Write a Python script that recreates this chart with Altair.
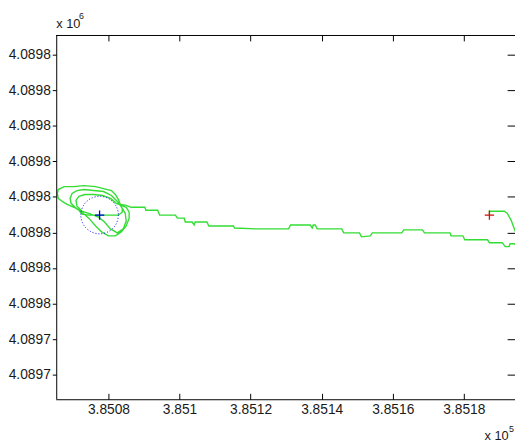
import json
import altair as alt
import pandas as pd

# ---------------- data (UTM metres) ----------------
x_tick_values = [385080, 385100, 385120, 385140, 385160, 385180]
x_tick_labels = ["3.8508", "3.851", "3.8512", "3.8514", "3.8516", "3.8518"]
y_tick_values = [4089740, 4089750, 4089760, 4089770, 4089780,
                 4089790, 4089800, 4089810, 4089820, 4089830]
y_tick_labels = ["4.0897", "4.0897", "4.0898", "4.0898", "4.0898",
                 "4.0898", "4.0898", "4.0898", "4.0898", "4.0898"]

# track: from the start point (red +) eastwards, back west to the target
approach_east = [385187.20, 385187.20, 385191.35, 385192.19, 385193.29, 385194.12, 385194.96,
                 385195.79, 385196.34, 385194.96, 385194.12, 385193.02, 385192.74, 385191.63,
                 385190.80, 385187.20, 385186.65, 385180.27, 385179.72, 385176.40, 385176.12,
                 385168.92, 385168.36, 385163.10, 385162.55, 385154.24, 385153.68, 385151.19,
                 385150.64, 385146.20, 385145.65, 385138.73, 385138.17, 385137.62, 385137.34,
                 385136.79, 385131.25, 385130.69, 385121.55, 385115.46, 385115.18, 385108.25,
                 385107.70, 385104.38, 385104.10, 385103.55, 385101.61, 385101.33, 385099.39,
                 385098.84, 385094.40, 385093.85, 385090.53, 385090.25, 385086.37, 385084.99,
                 385083.32]
approach_north = [4089784.87, 4089785.98, 4089785.98, 4089785.43, 4089783.49, 4089781.27, 4089779.06,
                  4089777.67, 4089776.56, 4089776.29, 4089776.84, 4089776.84, 4089776.01, 4089776.01,
                  4089777.12, 4089777.12, 4089777.95, 4089777.95, 4089779.06, 4089779.06, 4089779.89,
                  4089779.89, 4089780.72, 4089780.72, 4089779.89, 4089779.89, 4089779.06, 4089778.78,
                  4089779.89, 4089779.89, 4089781.00, 4089781.00, 4089782.10, 4089782.10, 4089781.27,
                  4089782.10, 4089782.10, 4089781.00, 4089781.00, 4089781.27, 4089781.83, 4089781.83,
                  4089782.94, 4089782.94, 4089782.10, 4089782.94, 4089782.94, 4089784.04, 4089784.04,
                  4089784.87, 4089784.87, 4089786.26, 4089786.26, 4089787.09, 4089787.09, 4089787.64,
                  4089787.92]
loop_a_east = [385082.77, 385081.94, 385080.83, 385078.61, 385076.40, 385073.07, 385070.30,
               385067.53, 385065.87, 385065.60, 385065.87, 385066.98, 385068.37, 385070.30,
               385071.69, 385072.52, 385074.46, 385078.61, 385082.77, 385083.88, 385083.88,
               385083.32]
loop_a_north = [4089789.31, 4089790.69, 4089791.80, 4089792.35, 4089792.91, 4089793.19, 4089792.91,
                4089792.91, 4089792.08, 4089790.97, 4089789.58, 4089788.75, 4089787.92, 4089787.09,
                4089786.26, 4089785.15, 4089784.87, 4089784.87, 4089784.87, 4089785.71, 4089786.81,
                4089787.64]
loop_b_east = [385082.22, 385080.83, 385078.61, 385075.84, 385073.07, 385071.14, 385069.75,
               385069.20, 385069.47, 385070.58, 385072.24, 385074.46, 385076.40, 385078.06,
               385080.00, 385081.94, 385083.60, 385084.99, 385085.82, 385085.82, 385084.99,
               385083.60]
loop_b_north = [4089789.03, 4089790.41, 4089791.52, 4089791.80, 4089792.08, 4089791.80, 4089790.97,
                4089789.58, 4089788.20, 4089787.09, 4089785.98, 4089784.04, 4089781.83, 4089780.17,
                4089779.06, 4089779.06, 4089780.17, 4089781.83, 4089784.04, 4089785.71, 4089787.09,
                4089787.64]
loop_c_east = [385082.22, 385080.55, 385078.34, 385075.84, 385073.35, 385071.69, 385070.86,
               385071.14, 385072.52, 385075.01, 385077.23, 385078.89, 385080.55, 385082.49,
               385084.16, 385084.99, 385084.71, 385083.88]
loop_c_north = [4089788.20, 4089789.58, 4089790.41, 4089790.69, 4089790.69, 4089790.14, 4089789.03,
                4089787.37, 4089785.98, 4089785.15, 4089784.32, 4089782.94, 4089781.00, 4089779.89,
                4089781.00, 4089783.21, 4089785.43, 4089786.81]

target_east = [385077.5]
target_north = [4089784.9]
start_east = [385187.2]
start_north = [4089784.9]

x_domain = [385065.3, 385194.4]
y_domain = [4089733.07, 4089835.57]

# ---------------- tables ----------------
east = approach_east + loop_a_east + loop_b_east + loop_c_east
north = approach_north + loop_a_north + loop_b_north + loop_c_north
track = pd.DataFrame({"E": east, "N": north, "i": list(range(len(east)))})
target = pd.DataFrame({"E": target_east, "N": target_north})
start = pd.DataFrame({"E": start_east, "N": start_north})
one = pd.DataFrame({"t": ["x 10"]})

W, H = 466, 370
FONT = "Liberation Sans"
TXT = "#1a1a1a"

xs = alt.Scale(domain=x_domain, nice=False, zero=False)
ys = alt.Scale(domain=y_domain, nice=False, zero=False)

x_expr = f"{json.dumps(x_tick_labels)}[indexof({json.dumps(x_tick_values)}, datum.value)]"
y_expr = f"{json.dumps(y_tick_labels)}[indexof({json.dumps(y_tick_values)}, datum.value)]"

bottom_axis = alt.Axis(orient="bottom", values=x_tick_values, labelExpr=x_expr, offset=-6,
                       tickSize=6, domain=False, grid=False, tickColor="black", title=None,
                       labelFont=FONT, labelFontSize=14, labelColor=TXT, labelPadding=3,
                       labelOverlap=False, labelFlush=False)
left_axis = alt.Axis(orient="left", values=y_tick_values, labelExpr=y_expr, tickSize=4,
                     domain=False, grid=False, tickColor="black", title=None,
                     labelFont=FONT, labelFontSize=14, labelColor=TXT, labelPadding=2,
                     labelOverlap=False)
top_axis = alt.Axis(orient="top", values=x_tick_values, labels=False, offset=-6, tickSize=6,
                    domain=False, grid=False, tickColor="black", title=None)
right_axis = alt.Axis(orient="right", values=y_tick_values, labels=False, offset=-8, tickSize=8,
                      domain=False, grid=False, tickColor="black", title=None)

line = alt.Chart(track).mark_line(clip=True, color="#33dd33", strokeWidth=1.4).encode(
    x=alt.X("E:Q", scale=xs, axis=bottom_axis),
    y=alt.Y("N:Q", scale=ys, axis=left_axis),
    order="i:Q",
)

circle = alt.Chart(target).mark_point(shape="circle", size=1452, filled=False, color="#0000ff",
                                      strokeWidth=1, strokeDash=[1, 2], opacity=1).encode(
    x=alt.X("E:Q", scale=xs, axis=top_axis),
    y=alt.Y("N:Q", scale=ys, axis=right_axis),
)

plus_shape = "M-1,0L1,0M0,-1L0,1"
blue_plus = alt.Chart(target).mark_point(shape=plus_shape, size=90, filled=False,
                                         color="#0000dd", strokeWidth=1.3, opacity=1).encode(
    x=alt.X("E:Q", scale=xs, axis=None),
    y=alt.Y("N:Q", scale=ys, axis=None),
)
red_plus = alt.Chart(start).mark_point(shape=plus_shape, size=90, filled=False,
                                       color="#cc1111", strokeWidth=1.3, opacity=1).encode(
    x=alt.X("E:Q", scale=xs, axis=None),
    y=alt.Y("N:Q", scale=ys, axis=None),
)

frame_top = alt.Chart(one).mark_rule(color="black", strokeWidth=1).encode(
    x=alt.value(0), x2=alt.value(W), y=alt.value(0.5))
frame_bottom = alt.Chart(one).mark_rule(color="black", strokeWidth=1).encode(
    x=alt.value(0), x2=alt.value(W), y=alt.value(H + 0.5))
frame_left = alt.Chart(one).mark_rule(color="black", strokeWidth=1).encode(
    x=alt.value(0.5), y=alt.value(0), y2=alt.value(H))

def label(txt, x, y, size):
    return alt.Chart(pd.DataFrame({"t": [txt]})).mark_text(
        align="left", baseline="alphabetic", font=FONT, fontSize=size, color=TXT
    ).encode(text="t:N", x=alt.value(x), y=alt.value(y))

texts = [
    label("x 10", 0, -7, 13), label("6", 23, -16, 9),
    label("x 10", 435, 411, 13), label("5", 460, 403, 9),
]

chart = alt.layer(line, circle, blue_plus, red_plus, frame_top, frame_bottom, frame_left,
                  *texts).resolve_axis(x="independent", y="independent").properties(
    width=W, height=H,
    autosize=alt.AutoSizeParams(type="none"),
    padding={"left": 49, "top": 24, "right": 0, "bottom": 40},
    background="white",
).configure_view(stroke=None)

chart.save("out.html", embed_options={"renderer": "svg", "actions": False})
